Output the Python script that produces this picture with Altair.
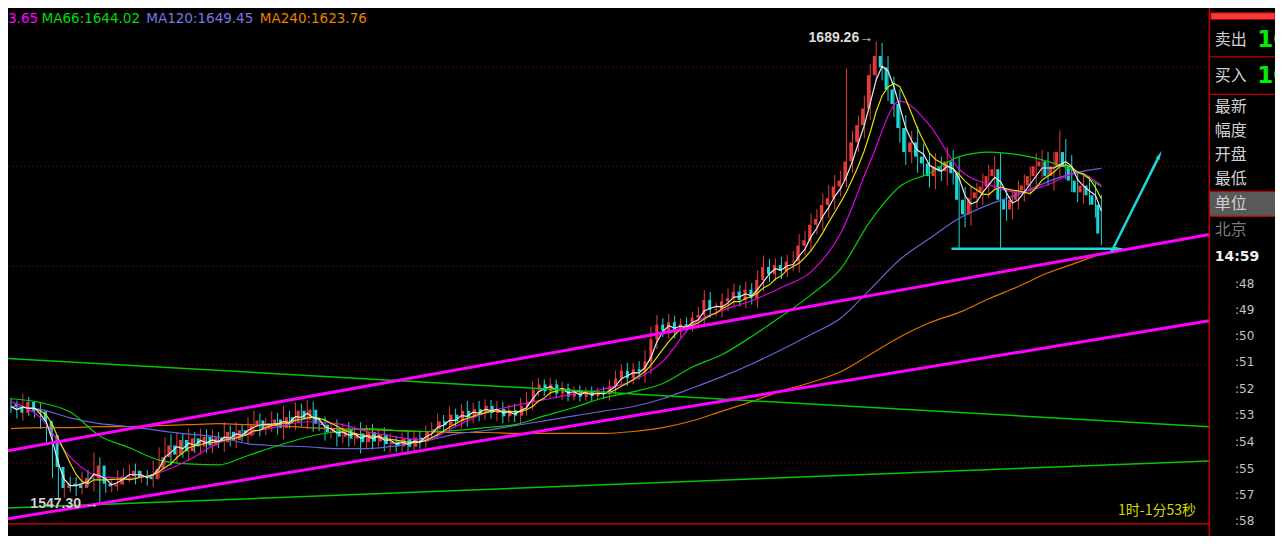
import altair as alt
import pandas as pd

# ---------------- data ----------------
open_first = 1577.5
closes = [
    1576.8, 1574.9, 1578.2, 1575.5, 1575.3, 1572.4, 1568.0, 1558.2, 1551.7, 1553.0,
    1552.6, 1551.7, 1554.8, 1554.6, 1558.6, 1553.0, 1552.2, 1552.8, 1555.2, 1555.3,
    1557.0, 1555.0, 1555.2, 1554.4, 1557.6, 1561.2, 1564.8, 1562.0, 1566.5, 1563.0,
    1567.0, 1564.5, 1567.5, 1564.8, 1567.2, 1565.8, 1569.0, 1566.5, 1569.5, 1567.8,
    1571.0, 1572.5, 1569.8, 1571.5, 1572.8, 1570.2, 1573.5, 1572.0, 1575.5, 1572.8,
    1575.8, 1571.5, 1571.2, 1568.8, 1569.8, 1567.5, 1569.6, 1566.9, 1568.5, 1565.8,
    1568.9, 1566.0, 1568.2, 1565.2, 1566.0, 1564.5, 1566.8, 1564.4, 1567.2, 1566.0,
    1569.2, 1569.8, 1572.2, 1571.0, 1574.3, 1572.2, 1575.5, 1573.6, 1576.0, 1574.8,
    1577.0, 1574.8, 1576.0, 1573.8, 1575.6, 1574.0, 1577.0, 1578.3, 1582.0, 1583.6,
    1581.5, 1583.6, 1580.8, 1582.4, 1579.9, 1581.8, 1579.8, 1581.5, 1580.0, 1581.4,
    1580.6, 1583.0, 1585.4, 1587.8, 1585.6, 1588.3, 1587.6, 1590.7, 1597.5, 1602.0,
    1600.2, 1602.8, 1599.8, 1602.2, 1601.6, 1604.2, 1605.0, 1609.6, 1606.6, 1606.8,
    1609.2, 1610.2, 1612.2, 1609.6, 1612.8, 1610.2, 1615.8, 1619.8, 1617.6, 1620.4,
    1618.6, 1621.5, 1621.6, 1626.4, 1628.0, 1632.8, 1634.6, 1638.9, 1641.0, 1644.6,
    1646.4, 1652.3, 1658.2, 1663.5, 1668.6, 1678.9, 1684.8, 1681.3, 1674.5, 1670.0,
    1662.6, 1655.2, 1658.2, 1653.8, 1651.7, 1647.8, 1650.8, 1649.3, 1652.3, 1648.7,
    1640.5, 1636.0, 1641.0, 1642.8, 1644.6, 1647.8, 1649.9, 1640.5, 1637.5, 1640.5,
    1643.4, 1644.9, 1647.8, 1650.8, 1652.3, 1647.8, 1650.8, 1655.2, 1650.8, 1646.4,
    1642.8, 1644.9, 1641.9, 1639.0, 1630.1,
]
wicks = [
    2.0, 1.8, 2.5, 1.6, 2.0, 2.5, 3.0, 3.5, 2.5, 3.0,
    2.2, 2.5, 2.0, 2.5, 4.0, 2.5, 2.0, 1.8, 2.0, 2.5,
    1.8, 2.2, 1.8, 2.0, 2.5, 3.0, 2.5, 3.5, 2.5, 2.0,
    3.0, 2.0, 2.5, 2.2, 2.5, 1.8, 3.0, 2.0, 2.5, 1.8,
    2.5, 3.0, 2.2, 1.8, 2.5, 2.0, 3.5, 2.0, 2.5, 2.2,
    3.0, 2.5, 2.0, 2.5, 1.8, 3.0, 2.0, 2.5, 2.2, 3.5,
    2.2, 2.5, 1.8, 2.2, 2.5, 1.8, 2.0, 2.5, 1.8, 2.2,
    1.8, 2.2, 2.5, 2.0, 2.5, 1.8, 2.2, 3.0, 2.0, 2.5,
    2.0, 1.8, 2.5, 2.2, 1.8, 2.0, 2.5, 3.0, 2.5, 2.0,
    1.5, 2.0, 1.5, 2.0, 1.5, 1.2, 1.5, 1.2, 1.5, 1.2,
    1.5, 2.0, 2.5, 2.0, 2.5, 2.0, 2.5, 3.5, 4.0, 3.0,
    2.0, 2.5, 2.0, 1.8, 2.0, 1.8, 2.5, 3.0, 2.5, 2.0,
    2.5, 3.0, 2.5, 2.0, 2.5, 2.0, 3.0, 3.5, 2.5, 2.0,
    2.5, 2.0, 3.0, 3.5, 3.0, 3.5, 3.0, 3.5, 4.0, 3.5,
    3.0, 2.0, 3.5, 3.0, 4.0, 3.5, 2.0, 4.0, 3.5, 4.0,
    4.5, 4.0, 3.5, 5.0, 4.0, 3.5, 4.0, 3.0, 4.5, 3.5,
    5.0, 4.0, 3.5, 3.0, 4.0, 3.5, 4.0, 5.0, 3.5, 3.0,
    3.0, 3.5, 3.0, 4.0, 3.5, 3.0, 4.5, 3.5, 4.0, 3.5,
    3.0, 3.5, 3.0, 4.0, 3.0,
]
spike_high_bars = [141, 146, 177]
spike_high_vals = [1681.0, 1689.26, 1661.8]
spike_low_bars = [8, 15, 160, 167, 184]
spike_low_vals = [1548.4, 1547.30, 1625.7, 1625.7, 1626.5]

ma_bars = [0, 5, 10, 15, 20, 25, 30, 35, 40, 45, 50, 55, 60, 65, 70, 75, 80, 85, 90,
           95, 100, 105, 110, 115, 120, 125, 130, 135, 140, 145, 150, 155, 160, 165,
           170, 175, 180, 184]
ma30 = [1578.3, 1573.3, 1561.2, 1555.2, 1554.7, 1556.4, 1560.3, 1565.6, 1568.6, 1570.6,
        1572.1, 1571.5, 1569.1, 1567.4, 1566.5, 1570.6, 1574.8, 1577.1, 1578.9, 1580.7,
        1582.2, 1584.8, 1590.7, 1602.0, 1606.4, 1609.4, 1613.5, 1618.3, 1630.1, 1652.3,
        1670.9, 1663.5, 1649.9, 1645.2, 1642.8, 1645.2, 1648.7, 1644.9]
ma66 = [1579.2, 1578.0, 1575.1, 1567.7, 1564.1, 1560.3, 1559.1, 1558.8, 1561.7, 1564.7,
        1567.4, 1569.1, 1570.0, 1569.4, 1569.1, 1569.4, 1570.3, 1571.2, 1573.9, 1576.5,
        1579.5, 1581.3, 1583.9, 1589.0, 1592.8, 1598.4, 1604.6, 1611.2, 1619.2, 1633.9,
        1644.6, 1648.7, 1653.8, 1655.2, 1654.4, 1652.3, 1649.0, 1644.6]
ma120 = [1576.8, 1575.9, 1573.3, 1571.5, 1570.6, 1569.4, 1568.3, 1567.4, 1565.3, 1564.7,
         1564.4, 1563.8, 1563.8, 1564.7, 1566.2, 1568.3, 1569.4, 1570.9, 1572.4, 1573.9,
         1575.4, 1576.8, 1579.2, 1582.5, 1586.0, 1589.9, 1594.3, 1599.0, 1604.0, 1612.9,
         1622.1, 1628.6, 1634.8, 1639.0, 1642.2, 1646.1, 1649.0, 1650.2]
ma240 = [1570.0, 1570.3, 1570.3, 1570.6, 1570.6, 1570.9, 1571.2, 1571.5, 1571.2, 1570.9,
         1570.3, 1570.0, 1569.7, 1569.4, 1569.1, 1568.8, 1568.8, 1568.5, 1568.5, 1568.5,
         1568.5, 1569.1, 1570.3, 1572.4, 1575.4, 1578.3, 1581.6, 1584.2, 1587.5, 1592.8,
         1598.2, 1602.6, 1605.8, 1610.0, 1613.8, 1618.0, 1621.2, 1623.9]

trend_bars = [-0.5, 202.2]
trend_magenta_upper = [1563.2, 1629.8]
trend_magenta_lower = [1542.2, 1603.2]
trend_green_upper = [1591.6, 1570.6]
trend_green_lower = [1545.5, 1560.0]

grid_prices = [1681.3, 1650.8, 1620.0, 1589.6, 1559.4]
base_price = [1540.7]

support_bars = [158.7, 186.7]
support_prices = [1625.4, 1625.4]
target_bars = [185.7, 193.7]
target_prices = [1624.5, 1653.8]

peak_label = ["1689.26→"]
low_label = ["1547.30 →"]

legend_texts = ["3.65", "MA66:1644.02", "MA120:1649.45", "MA240:1623.76"]
legend_colors = ["#ff00ff", "#00dd00", "#7676e6", "#e88000"]

panel_labels = ["卖出", "买入", "最新", "幅度", "开盘", "最低", "单位", "北京"]
panel_label_colors = ["#d0d0d0"] * 7 + ["#7a7a7a"]
big_values = ["10", "10"]
clock_label = ["14:59"]
tick_labels = [":48", ":49", ":50", ":51", ":52", ":53", ":54", ":55", ":57", ":58"]
countdown = ["1时-1分53秒"]

# layout of the right-hand quote panel (reference pixel rows)
panel_label_rows = [33, 71, 103, 128, 153, 178, 204, 231]
big_value_rows = [33, 71]
clock_row = [259]
tick_rows = [287, 315, 342, 369, 397, 424, 452, 480, 507, 534]

# ---------------- build tables ----------------
assert len(closes) == len(wicks) == 185
opens = [open_first] + closes[:-1]
df = pd.DataFrame({"bar": range(len(closes)), "open": opens, "close": closes, "wick": wicks})
df["high"] = df[["open", "close"]].max(axis=1) + df["wick"]
df["low"] = df[["open", "close"]].min(axis=1) - df["wick"]
for b, v in zip(spike_high_bars, spike_high_vals):
    df.loc[b, "high"] = v
for b, v in zip(spike_low_bars, spike_low_vals):
    df.loc[b, "low"] = v
df["dir"] = ["up" if c >= o else "down" for o, c in zip(df["open"], df["close"])]
df["ma5"] = df["close"].rolling(3, min_periods=1).mean()
df["ma10"] = df["close"].rolling(6, min_periods=1).mean()

ma_df = pd.DataFrame({"bar": ma_bars, "ma30": ma30, "ma66": ma66, "ma120": ma120, "ma240": ma240})

W, H = 1267, 528
XM = alt.Scale(domain=[-0.5, 213.3], nice=False, zero=False)
YM = alt.Scale(domain=[1536.9, 1699.6], nice=False, zero=False)
XP = alt.Scale(domain=[0, 1283], nice=False, zero=False)
YP = alt.Scale(domain=[0, 550], reverse=True, nice=False, zero=False)

RED = "#e83a3a"
CYAN = "#1fd6d6"
DARKRED = "#c00000"


def xm(f):
    return alt.X(f, type="quantitative", scale=XM, axis=None)


def ym(f):
    return alt.Y(f, type="quantitative", scale=YM, axis=None)


def xp(f):
    return alt.X(f, type="quantitative", scale=XP, axis=None)


def yp(f):
    return alt.Y(f, type="quantitative", scale=YP, axis=None)


layers = []

# dotted grid lines and bottom border
grid_df = pd.DataFrame({"price": grid_prices, "x0": trend_bars[0], "x1": trend_bars[1]})
layers.append(alt.Chart(grid_df).mark_rule(color="#8a0000", strokeDash=[1, 3], strokeWidth=1).encode(
    x=xm("x0"), x2="x1", y=ym("price")))
base_df = pd.DataFrame({"price": base_price, "x0": trend_bars[0], "x1": trend_bars[1]})
layers.append(alt.Chart(base_df).mark_rule(color=DARKRED, strokeWidth=1.5).encode(
    x=xm("x0"), x2="x1", y=ym("price")))

# candles
cscale = alt.Scale(domain=["up", "down"], range=[RED, CYAN])
layers.append(alt.Chart(df).mark_rule(strokeWidth=1).encode(
    x=xm("bar"), y=ym("low"), y2="high", color=alt.Color("dir:N", scale=cscale, legend=None)))
layers.append(alt.Chart(df).mark_bar(size=3).encode(
    x=xm("bar"), y=ym("open"), y2="close", color=alt.Color("dir:N", scale=cscale, legend=None)))

# moving averages
for col, colr, w in [("ma240", "#e07000", 1.2), ("ma120", "#6464d8", 1.2), ("ma66", "#00d000", 1.2),
                     ("ma30", "#e000e0", 1.2)]:
    layers.append(alt.Chart(ma_df).mark_line(color=colr, strokeWidth=w, interpolate="monotone").encode(
        x=xm("bar"), y=ym(col)))
layers.append(alt.Chart(df).mark_line(color="#e0e000", strokeWidth=1.2).encode(x=xm("bar"), y=ym("ma10")))
layers.append(alt.Chart(df).mark_line(color="#e8e8e8", strokeWidth=1.2).encode(x=xm("bar"), y=ym("ma5")))

# trend lines
for vals, colr, w in [(trend_green_upper, "#00c800", 1.5), (trend_green_lower, "#00c800", 1.5),
                      (trend_magenta_upper, "#ff00ff", 3), (trend_magenta_lower, "#ff00ff", 3)]:
    tdf = pd.DataFrame({"bar": trend_bars, "price": vals})
    layers.append(alt.Chart(tdf).mark_line(color=colr, strokeWidth=w).encode(x=xm("bar"), y=ym("price")))

# cyan arrows
arrow_shape = "M0,-1.4L0.42,0.6L-0.42,0.6Z"
for bars, prices, ang in [(support_bars, support_prices, 90), (target_bars, target_prices, 26)]:
    adf = pd.DataFrame({"bar": bars, "price": prices})
    layers.append(alt.Chart(adf).mark_line(color=CYAN, strokeWidth=2.5).encode(x=xm("bar"), y=ym("price")))
    layers.append(alt.Chart(adf.tail(1)).mark_point(shape=arrow_shape, filled=True, color=CYAN, size=90,
                                                     angle=ang, opacity=1).encode(x=xm("bar"), y=ym("price")))

# extreme labels
pk = pd.DataFrame({"bar": [spike_high_bars[1]], "price": [spike_high_vals[1]], "t": peak_label})
layers.append(alt.Chart(pk).mark_text(align="right", baseline="middle", dx=-3, dy=-4, font="Liberation Sans",
                                      fontWeight="bold", fontSize=14, color="#dcdcdc").encode(
    x=xm("bar"), y=ym("price"), text="t:N"))
lw = pd.DataFrame({"bar": [spike_low_bars[1]], "price": [spike_low_vals[1]], "t": low_label})
layers.append(alt.Chart(lw).mark_text(align="right", baseline="middle", dx=-1, dy=2, font="Liberation Sans",
                                      fontWeight="bold", fontSize=14, color="#d0d0d0").encode(
    x=xm("bar"), y=ym("price"), text="t:N"))

# ---------------- legend along the top ----------------
leg_df = pd.DataFrame({"t": legend_texts, "c": legend_colors, "x": [0, 34, 140, 255], "y": 11})
layers.append(alt.Chart(leg_df).mark_text(align="left", baseline="middle", font="DejaVu Sans",
                                          fontSize=13.5).encode(
    x=xp("x"), y=yp("y"), text="t:N", color=alt.Color("c:N", scale=None)))

# ---------------- right quote panel ----------------
layers.append(alt.Chart(pd.DataFrame({"x": [1216.5], "y0": [0], "y1": [550]})).mark_rule(
    color=DARKRED, strokeWidth=1.5).encode(x=xp("x"), y=yp("y0"), y2="y1"))
layers.append(alt.Chart(pd.DataFrame({"x0": [1218], "x1": [1283], "y0": [5], "y1": [12]})).mark_rect(
    color="#f03c3c", stroke="#c00000").encode(x=xp("x0"), x2="x1", y=yp("y0"), y2="y1"))
layers.append(alt.Chart(pd.DataFrame({"x0": [1217], "x1": [1283], "y0": [191], "y1": [217]})).mark_rect(
    color="#595959").encode(x=xp("x0"), x2="x1", y=yp("y0"), y2="y1"))
layers.append(alt.Chart(pd.DataFrame({"x0": 1217, "x1": 1283, "y": [51, 90, 191, 217]})).mark_rule(
    color=DARKRED, strokeWidth=1.2).encode(x=xp("x0"), x2="x1", y=yp("y")))

pl = pd.DataFrame({"t": panel_labels, "y": panel_label_rows, "c": panel_label_colors, "x": 1222})
layers.append(alt.Chart(pl).mark_text(align="left", baseline="middle", font="Noto Sans CJK SC", fontSize=16).encode(
    x=xp("x"), y=yp("y"), text="t:N", color=alt.Color("c:N", scale=None)))
bv = pd.DataFrame({"t": big_values, "y": big_value_rows, "x": 1265})
layers.append(alt.Chart(bv).mark_text(align="left", baseline="middle", font="DejaVu Sans", fontWeight="bold",
                                      fontSize=23, color="#00ee00").encode(x=xp("x"), y=yp("y"), text="t:N"))
ck = pd.DataFrame({"t": clock_label, "y": clock_row, "x": 1222})
layers.append(alt.Chart(ck).mark_text(align="left", baseline="middle", font="DejaVu Sans", fontWeight="bold",
                                      fontSize=14, color="#f0f0f0").encode(x=xp("x"), y=yp("y"), text="t:N"))
tk = pd.DataFrame({"t": tick_labels, "y": tick_rows, "x": 1262})
layers.append(alt.Chart(tk).mark_text(align="right", baseline="middle", font="DejaVu Sans",
                                      fontSize=12, color="#c4c4c4").encode(x=xp("x"), y=yp("y"), text="t:N"))
cd = pd.DataFrame({"t": countdown, "y": [524], "x": 1203})
layers.append(alt.Chart(cd).mark_text(align="right", baseline="middle", font="Noto Sans CJK SC",
                                      fontSize=14, color="#d8d800").encode(x=xp("x"), y=yp("y"), text="t:N"))

chart = alt.layer(*layers).resolve_scale(x="independent", y="independent", color="independent").properties(
    width=W, height=H, padding=0, autosize=alt.AutoSizeParams(type="none")
).configure(background="black").configure_view(strokeWidth=0)

chart.save("out.html", embed_options={"renderer": "svg", "actions": False})
